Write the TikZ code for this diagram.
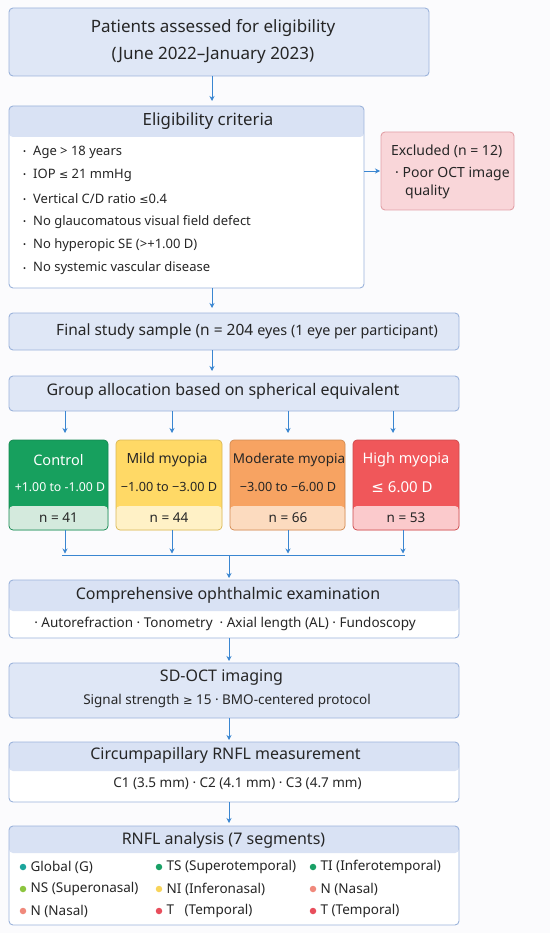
\documentclass[tikz,border=0pt]{standalone}
\usepackage{fontspec}
\setmainfont{Noto Sans}
\newfontfamily\symfont{DejaVu Sans}
\usetikzlibrary{arrows.meta, positioning, calc}
\definecolor{pagebg}{HTML}{FBFBFD}
\definecolor{boxfill}{HTML}{DFE7F6}
\definecolor{boxhdr}{HTML}{D9E2F4}
\definecolor{boxline}{HTML}{9BB3DB}
\definecolor{flowblue}{HTML}{3A86D1}
\definecolor{txtdark}{HTML}{262626}
\definecolor{exclfill}{HTML}{F9D6D9}
\definecolor{exclline}{HTML}{E2A0A6}
\definecolor{ctrlgreen}{HTML}{17A05E}
\definecolor{ctrlband}{HTML}{D4EADD}
\definecolor{mildyellow}{HTML}{FFD966}
\definecolor{mildband}{HTML}{FFF1C6}
\definecolor{modorange}{HTML}{F7A362}
\definecolor{modband}{HTML}{FCDBBF}
\definecolor{highred}{HTML}{F0575A}
\definecolor{highband}{HTML}{FBCACC}
\definecolor{segteal}{HTML}{1BA59C}
\definecolor{seggreen}{HTML}{19A066}
\definecolor{seglime}{HTML}{8CC53F}
\definecolor{segyellow}{HTML}{F8D45A}
\definecolor{segsalmon}{HTML}{F0897C}
\definecolor{segred}{HTML}{E84E5C}
\newcommand{\dotitem}{\makebox[10pt][l]{\raisebox{0.1ex}{\footnotesize\textbullet}}}
\newcommand{\lesym}{{\symfont\scalebox{0.85}{≤}}}
\newcommand{\gesym}{{\symfont\scalebox{0.85}{≥}}}
\tikzset{
  % Flow boxes
  flowbox/.style={
    rectangle, rounded corners=4pt, draw=boxline, fill=boxfill,
    line width=0.9pt, inner sep=0pt, outer sep=0pt,
  },
  hdrbox/.style={
    flowbox, fill=white,
    path picture={\fill[boxhdr] (path picture bounding box.north west)
      rectangle ([yshift=-#1]path picture bounding box.north east);},
  },
  hdrbox/.default={31pt},
  % Group boxes
  grpbox/.style 2 args={
    rectangle, rounded corners=4pt, draw=#1!85!black, fill=#1,
    line width=0.7pt, inner sep=0pt, outer sep=0pt,
    minimum height=90pt,
    path picture={\fill[#2] ([yshift=24pt]path picture bounding box.south west)
      rectangle (path picture bounding box.south east);},
  },
  exclbox/.style={
    rectangle, rounded corners=4pt, draw=exclline, fill=exclfill,
    line width=0.9pt, inner sep=0pt, outer sep=0pt,
  },
  % Texts
  titletext/.style={font=\fontsize{16}{19}\selectfont, text=txtdark, inner sep=0pt},
  subtext/.style={font=\fontsize{13.5}{16}\selectfont, text=txtdark, inner sep=0pt},
  grptext/.style={font=\fontsize{13.5}{16}\selectfont, text=#1, inner sep=0pt},
  grptext/.default={txtdark},
  segdot/.style={circle, fill=#1, minimum size=6.5pt, inner sep=0pt},
  % Arrows
  myarrow/.style={-{Stealth[length=5pt, width=5pt]}, line width=0.9pt, draw=flowblue, shorten >=#1},
  myarrow/.default={5pt},
  flowline/.style={line width=0.9pt, draw=flowblue},
}
\begin{document}
\begin{tikzpicture}[x=1pt, y=-1pt]

  % Page
  \fill[pagebg] (0,0) rectangle (550,933);
  \useasboundingbox (0,0) rectangle (550,933);
  \coordinate (spine) at (212,0);
  \coordinate (merge) at (229,555);

  % Patients
  \node[flowbox, minimum width=420pt, minimum height=68pt] (patients) at (219,42) {};
  \node[titletext, align=center, font=\fontsize{17}{27}\selectfont] (patientsT) at (213,42)
    {Patients assessed for eligibility\\(June 2022–January 2023)};

  % Eligibility criteria
  \node[hdrbox, minimum width=355pt, minimum height=182pt] (elig) at (186.5,197) {};
  \node[titletext, font=\fontsize{16.8}{19}\selectfont] (eligT) at (208,121.5) {Eligibility criteria};
  \foreach \t [count=\i] in {Age > 18 years, IOP \lesym\ 21 mmHg, Vertical C/D ratio \lesym0.4,
      No glaucomatous visual field defect, No hyperopic SE (>+1.00 D),
      No systemic vascular disease}
    \node[subtext, font=\fontsize{13}{15}\selectfont, anchor=west] (crit\i) at (23,{152+(\i-1)*23.3}) {\dotitem\t};

  % Excluded
  \node[exclbox, minimum width=133pt, minimum height=78pt] (excl) at (447.5,171) {};
  \node[subtext, font=\fontsize{14}{16}\selectfont, anchor=west] (exclT) at (391,151) {Excluded (n = 12)};
  \node[subtext, font=\fontsize{14}{16}\selectfont, anchor=west] (exclA) at (395,174) {·\ Poor OCT image};
  \node[subtext, font=\fontsize{14}{16}\selectfont, anchor=west] (exclB) at (405,192) {quality};

  % Final sample
  \node[flowbox, minimum width=450pt, minimum height=37pt] (final) at (234,331.5) {};
  \node[titletext, font=\fontsize{15.5}{18}\selectfont] (finalT) at (247,331)
    {Final study sample (n = 204 {\fontsize{14.3}{17}\selectfont eyes (1 eye per participant)}};

  % Group allocation
  \node[flowbox, minimum width=450pt, minimum height=35pt] (group) at (234,393.5) {};
  \node[titletext] (groupT) at (223,391) {Group allocation based on spherical equivalent};

  % Groups
  \node[grpbox={ctrlgreen}{ctrlband}, minimum width=99pt] (ctrl) at (58.5,485) {};
  \node[grpbox={mildyellow}{mildband}, minimum width=106pt] (mild) at (169,485) {};
  \node[grpbox={modorange}{modband}, minimum width=115pt] (mod) at (287.5,485) {};
  \node[grpbox={highred}{highband}, minimum width=106pt] (high) at (406,485) {};

  \node[grptext=white, font=\fontsize{14.5}{17}\selectfont] (ctrlN) at (58.5,460) {Control};
  \node[grptext=white, font=\fontsize{12.3}{14}\selectfont] (ctrlR) at (60,487) {+1.00 to -1.00 D};
  \node[grptext] (ctrlC) at (58.5,518) {n = 41};
  \node[grptext, font=\fontsize{14}{17}\selectfont] (mildN) at (167,460) {Mild myopia};
  \node[grptext, font=\fontsize{12.7}{14}\selectfont] (mildR) at (169,487) {−1.00 to −3.00 D};
  \node[grptext] (mildC) at (169,518) {n = 44};
  \node[grptext] (modN) at (289,460) {Moderate myopia};
  \node[grptext, font=\fontsize{12.7}{14}\selectfont] (modR) at (288,487) {−3.00 to −6.00 D};
  \node[grptext] (modC) at (288,518) {n = 66};
  \node[grptext=white, font=\fontsize{14.5}{17}\selectfont] (highN) at (406,460) {High myopia};
  \node[grptext=white, font=\fontsize{15}{17}\selectfont] (highR) at (402,487) {{\symfont ≤}\ 6.00 D};
  \node[grptext] (highC) at (406,518) {n = 53};

  % Comprehensive examination
  \node[hdrbox=31pt, minimum width=450pt, minimum height=58pt] (comp) at (234,609) {};
  \node[titletext] (compT) at (228,595.5) {Comprehensive ophthalmic examination};
  \node[subtext] (compS) at (225,623.5) {·\ Autorefraction · Tonometry \ · Axial length (AL) · Fundoscopy};

  % SD-OCT
  \node[flowbox, minimum width=450pt, minimum height=55pt] (oct) at (234,690.5) {};
  \node[titletext] (octT) at (221.5,677.5) {SD-OCT imaging};
  \node[subtext] (octS) at (227,700.5) {Signal strength \gesym\ 15 · BMO-centered protocol};

  % Circumpapillary
  \node[hdrbox=29pt, minimum width=450pt, minimum height=60pt] (circ) at (234,772) {};
  \node[titletext] (circT) at (225.5,755.5) {Circumpapillary RNFL measurement};
  \node[subtext] (circS) at (237.5,783.5) {C1 (3.5 mm) · C2 (4.1 mm) · C3 (4.7 mm)};

  % RNFL analysis
  \node[hdrbox=27pt, minimum width=450pt, minimum height=99pt] (rnfl) at (234,875.5) {};
  \node[titletext] (rnflT) at (223.5,840) {RNFL analysis (7 segments)};
  \foreach \px/\py/\c/\t [count=\i] in {
      23/867/segteal/{\textbf{Global} (G)}, 159/867/seggreen/TS (Superotemporal), 313/867/seggreen/TI (Inferotemporal),
      23/889/seglime/NS (Superonasal), 159/889/segyellow/NI (Inferonasal), 313/889/segsalmon/N (Nasal),
      23/911/segsalmon/N (Nasal), 159/911/segred/T \ \ (Temporal), 313/911/segred/T (Temporal)} {
    \node[segdot=\c] (seg\i) at (\px,\py) {};
    \node[subtext, anchor=west, right=4pt of seg\i] (segT\i) {\t};
  }

  % Arrows
  \draw[myarrow] (patients.south -| spine) -- (elig.north -| spine);
  \draw[myarrow=1pt] (excl.west -| elig.east) -- (excl.west);
  \draw[myarrow] (elig.south -| spine) -- (final.north -| spine);
  \draw[myarrow] (final.south -| spine) -- (group.north -| spine);
  \foreach \g/\dx in {ctrl/6.5, mild/3, mod/0.5, high/-13}
    \draw[myarrow=7pt] ([xshift=\dx pt]\g.north |- group.south) -- ([xshift=\dx pt]\g.north);
  \foreach \g/\dx in {ctrl/6.5, mild/3, mod/0.5, high/-3}
    \draw[myarrow=1.5pt] ([xshift=\dx pt]\g.south) -- ([xshift=\dx pt]\g.south |- merge);
  \draw[flowline] ([xshift=3.5pt]ctrl.south |- merge) -- ([xshift=-1pt]high.south |- merge);
  \draw[myarrow=2pt] (merge) -- (comp.north -| merge);
  \draw[myarrow=2pt] (comp.south -| merge) -- (oct.north -| merge);
  \draw[myarrow=2pt] (oct.south -| merge) -- (circ.north -| merge);
  \draw[myarrow=3pt] (circ.south -| merge) -- (rnfl.north -| merge);

\end{tikzpicture}
\end{document}
